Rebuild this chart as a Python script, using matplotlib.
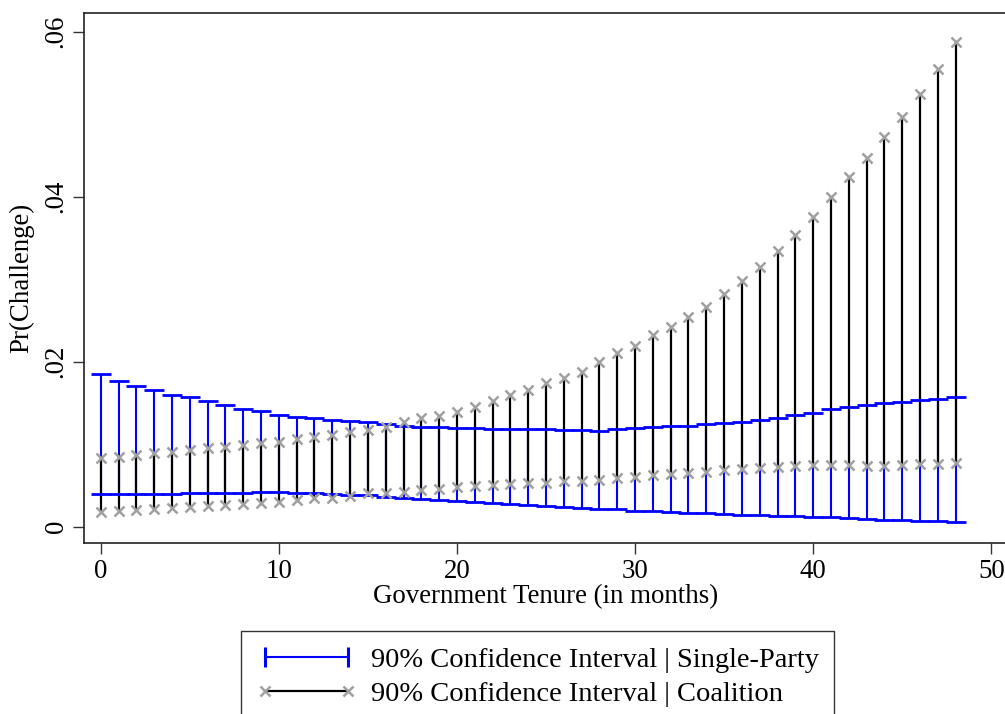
import numpy as np
import matplotlib
matplotlib.use('Agg')
import matplotlib.pyplot as plt
from matplotlib.lines import Line2D

plt.rcParams['font.family'] = ['Liberation Serif', 'DejaVu Serif']

# government tenure (months)
tenure = np.arange(0, 49)

# single-party 90% CI
sp_upper = [0.0185, 0.01766, 0.01705, 0.01657, 0.01593, 0.01572, 0.0152, 0.01471, 0.01423, 0.01402,
            0.01354, 0.01333, 0.01313, 0.01293, 0.01281, 0.01265, 0.01245, 0.0122, 0.01208, 0.01204,
            0.012, 0.01192, 0.01184, 0.0118, 0.01184, 0.0118, 0.01172, 0.01168, 0.01164, 0.0118,
            0.01192, 0.01204, 0.01216, 0.01224, 0.01245, 0.01257, 0.01269, 0.01293, 0.01313, 0.0135,
            0.01382, 0.0143, 0.0145, 0.01475, 0.01499, 0.01511, 0.01531, 0.01552, 0.01572]
sp_lower = [0.0039, 0.0039, 0.00392, 0.00396, 0.004, 0.00402, 0.00404, 0.00408, 0.00412, 0.00416,
            0.00416, 0.00412, 0.00404, 0.00396, 0.00388, 0.00378, 0.00364, 0.0035, 0.00337, 0.00324,
            0.00311, 0.00298, 0.00286, 0.00274, 0.00262, 0.0025, 0.00239, 0.00228, 0.00218, 0.00208,
            0.00192, 0.00184, 0.00176, 0.00168, 0.0016, 0.00153, 0.00146, 0.00139, 0.00132, 0.00125,
            0.00118, 0.00111, 0.00104, 0.00098, 0.00085, 0.00077, 0.0007, 0.00063, 0.00057]

# coalition 90% CI
co_upper = [0.00829, 0.00849, 0.00865, 0.0089, 0.00902, 0.0093, 0.0095, 0.0097, 0.00986, 0.0101,
            0.0103, 0.0106, 0.0109, 0.01115, 0.01148, 0.01175, 0.01212, 0.01269, 0.01314, 0.01342,
            0.01394, 0.01455, 0.01527, 0.01596, 0.01657, 0.01738, 0.01799, 0.01879, 0.01993, 0.02102,
            0.0219, 0.02324, 0.02417, 0.02545, 0.02667, 0.0282, 0.02982, 0.03152, 0.03345, 0.03536,
            0.03758, 0.03993, 0.04235, 0.04465, 0.0472, 0.0497, 0.05245, 0.05548, 0.05871]
co_lower = [0.00182, 0.00194, 0.00202, 0.00215, 0.00223, 0.00242, 0.00255, 0.00263, 0.00271, 0.00284,
            0.00303, 0.00324, 0.00344, 0.00352, 0.00376, 0.00405, 0.00412, 0.00424, 0.00445, 0.00461,
            0.00478, 0.00493, 0.00505, 0.00518, 0.00526, 0.00533, 0.00554, 0.00558, 0.00566, 0.00587,
            0.00602, 0.00627, 0.00639, 0.00655, 0.00667, 0.00687, 0.00696, 0.00715, 0.00727, 0.00736,
            0.00748, 0.00748, 0.00748, 0.0074, 0.0074, 0.00748, 0.0076, 0.0076, 0.00768]

x_ticks = [0, 10, 20, 30, 40, 50]
y_ticks = [0, 0.02, 0.04, 0.06]
y_ticklabels = ['0', '.02', '.04', '.06']

blue = '#0000ff'
grey = '#a0a0a0'
fs = 19.4

fig = plt.figure(figsize=(10.05, 7.14), dpi=100)
ax = fig.add_axes([0.0836, 0.239, 0.9194, 0.7428])

# single-party: spikes + wide caps
ax.vlines(tenure, sp_lower, sp_upper, color=blue, lw=1.5, zorder=2)
ax.plot(tenure, sp_upper, ls='none', marker='_', ms=14.5, mew=2.0, color=blue, zorder=4)
ax.plot(tenure, sp_lower, ls='none', marker='_', ms=14.5, mew=2.0, color=blue, zorder=4)

# coalition: black spikes with grey x at ends
ax.vlines(tenure, co_lower, co_upper, color='black', lw=1.6, zorder=3)
ax.plot(tenure, co_upper, ls='none', marker='x', ms=7.5, mew=1.8, color=grey, zorder=5)
ax.plot(tenure, co_lower, ls='none', marker='x', ms=7.5, mew=1.8, color=grey, zorder=5)

ax.set_xlim(-0.94, 50.94)
ax.set_ylim(-0.00203, 0.06227)
ax.set_xticks(x_ticks)
ax.set_yticks(y_ticks)
ax.set_yticklabels(y_ticklabels, rotation=90, va='center')
ax.tick_params(direction='out', length=8, width=1, labelsize=fs, color='#333333', pad=3)
for s in ax.spines.values():
    s.set_linewidth(1.2)
    s.set_color('#222222')

ax.set_xlabel('Government Tenure (in months)', fontsize=fs, labelpad=0)
ax.set_ylabel('Pr(Challenge)', fontsize=fs, labelpad=7)

handles = [Line2D([0, 1], [0, 0], color=blue, lw=1.5, marker='|', ms=14, mew=2.2),
           Line2D([0, 1], [0, 0], color='black', lw=1.6, marker='x', ms=7.5, mew=1.8,
                  markeredgecolor=grey)]
labels = ['90% Confidence Interval | Single-Party', '90% Confidence Interval | Coalition']
leg = fig.legend(handles, labels, loc='upper left', bbox_to_anchor=(0.2398, 0.1162),
                 numpoints=2, fontsize=20.5, handlelength=3.5, handletextpad=0.5,
                 labelspacing=0.3, borderpad=0.55, fancybox=False, framealpha=1,
                 edgecolor='#333333', borderaxespad=0)
leg.get_frame().set_linewidth(1.0)

fig.savefig('out.png', dpi=100)
